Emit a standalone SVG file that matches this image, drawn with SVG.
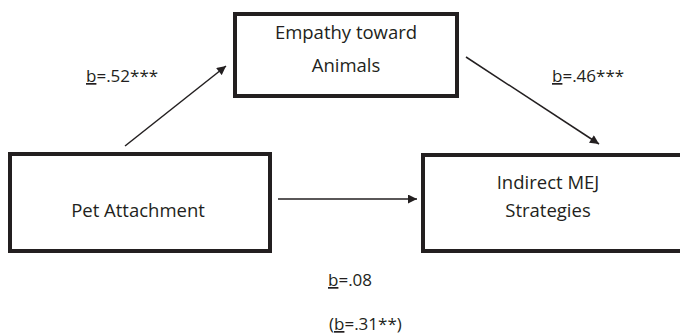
<svg xmlns="http://www.w3.org/2000/svg" width="680" height="334" viewBox="0 0 680 334">
<style>
.box{fill:#fff;stroke:#231f20;stroke-width:4}
.t{font-family:"Open Sans","Liberation Sans",sans-serif;font-size:18.5px;fill:#231f20;text-anchor:middle}
.l{font-family:"Open Sans","Liberation Sans",sans-serif;font-size:17px;fill:#231f20}
.u{text-decoration:underline}
.c{stroke:#231f20;stroke-width:1.5;fill:none}
</style>
<defs>
<marker id="ah" viewBox="0 0 10 10" refX="10" refY="5" markerWidth="11" markerHeight="9" markerUnits="userSpaceOnUse" orient="auto">
<path d="M0,0 L10,5 L0,10 Z" fill="#231f20"/>
</marker>
</defs>
<rect width="680" height="334" fill="#fff"/>
<g id="empathy">
<rect class="box" x="235" y="14" width="222" height="82"/>
<text class="t" x="346" y="39">Empathy toward</text>
<text class="t" x="346" y="72">Animals</text>
</g>
<g id="pet">
<rect class="box" x="10" y="154" width="260" height="97"/>
<text class="t" x="138" y="217">Pet Attachment</text>
</g>
<g id="indirect">
<rect class="box" x="423" y="155" width="262" height="96"/>
<text class="t" x="548" y="189">Indirect MEJ</text>
<text class="t" x="548" y="217">Strategies</text>
</g>
<g id="connectors">
<line class="c" x1="125" y1="146" x2="226" y2="66" marker-end="url(#ah)"/>
<line class="c" x1="466" y1="57" x2="599" y2="144" marker-end="url(#ah)"/>
<line class="c" x1="278" y1="199" x2="417" y2="199" marker-end="url(#ah)"/>
</g>
<g id="labels">
<text class="l" x="86" y="82"><tspan class="u">b</tspan>=.52***</text>
<text class="l" x="552" y="82"><tspan class="u">b</tspan>=.46***</text>
<text class="l" x="328" y="286"><tspan class="u">b</tspan>=.08</text>
<text class="l" x="329" y="330">(<tspan class="u">b</tspan>=.31**)</text>
</g>
</svg>
